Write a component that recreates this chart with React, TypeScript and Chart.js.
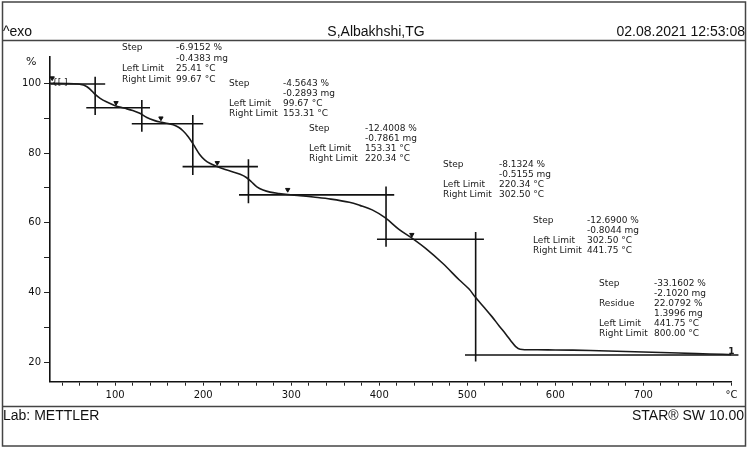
import React, { useEffect, useRef } from 'react';
import { Chart, registerables } from 'chart.js';

Chart.register(...registerables);

// ---- Data ----
const temperatures = [26, 45, 58, 64, 68, 72, 77, 83, 90, 100, 110, 120, 128, 136, 145, 151, 160, 166, 172, 177, 183, 189, 196, 202, 208, 215, 225, 234, 242, 249, 255, 261, 268, 276, 286, 296, 310, 325, 345, 366, 378, 392, 407, 422, 436, 453, 472, 491, 502, 509, 520, 528, 536, 544, 550, 555, 560, 580, 600, 640, 680, 720, 760, 790, 800];
const massPercent = [100.0, 99.95, 99.8, 99.5, 99.0, 98.2, 96.9, 95.7, 94.7, 93.6, 92.9, 92.2, 91.4, 90.2, 89.3, 88.9, 88.5, 88.1, 87.4, 86.4, 84.7, 82.4, 79.6, 78.0, 77.0, 76.2, 75.3, 74.6, 73.9, 73.0, 71.7, 70.3, 69.4, 68.8, 68.4, 68.1, 67.8, 67.4, 66.8, 65.9, 65.0, 63.7, 61.4, 58.2, 55.8, 52.6, 48.4, 43.6, 41.0, 38.7, 35.5, 33.1, 30.5, 28.0, 26.0, 24.5, 23.75, 23.6, 23.55, 23.4, 23.1, 22.8, 22.5, 22.3, 22.2];

// step evaluation construction lines: [x1, y1, x2, y2]
const stepLines = [
  [26.4, 99.8, 88.7, 99.8],
  [77.3, 101.9, 77.3, 90.9],
  [67.2, 93.0, 139.6, 93.0],
  [130.3, 95.2, 130.3, 86.1],
  [118.9, 88.4, 200, 88.4],
  [188.2, 90.9, 188.2, 73.7],
  [176.6, 76.1, 262.2, 76.1],
  [251.4, 78.2, 251.4, 65.6],
  [240.7, 68.0, 417, 68.0],
  [407.7, 70.4, 407.7, 53.1],
  [397.4, 55.3, 518.9, 55.3],
  [509.5, 57.4, 509.5, 20.2],
  [497.4, 22.1, 808, 22.1],
];

const markerTemps = [28.5, 101, 152, 216, 296, 437];
const markerValues = [101.5, 94.4, 90.0, 77.2, 69.5, 56.6];

const xTickValues = [40, 60, 80, 100, 120, 140, 160, 180, 200, 220, 240, 260, 280, 300, 320, 340, 360, 380, 400, 420, 440, 460, 480, 500, 520, 540, 560, 580, 600, 620, 640, 660, 680, 700, 720, 740, 760, 780, 800];
const xTickLabels: Record<number, string> = { 100: '100', 200: '200', 300: '300', 400: '400', 500: '500', 600: '600', 700: '700', 800: '°C' };
const yTickValues = [20, 30, 40, 50, 60, 70, 80, 90, 100];
const yTickLabels: Record<number, string> = { 20: '20', 40: '40', 60: '60', 80: '80', 100: '100' };

const header = { left: '^exo', center: 'S,Albakhshi,TG', right: '02.08.2021 12:53:08' };
const footer = { left: 'Lab: METTLER', right: 'STAR® SW 10.00' };

// annotation blocks: label column, value column
const annotationBlocks = [
  { labels: ['Step', '', 'Left Limit', 'Right Limit'], values: ['-6.9152 %', '-0.4383 mg', '25.41 °C', '99.67 °C'] },
  { labels: ['Step', '', 'Left Limit', 'Right Limit'], values: ['-4.5643 %', '-0.2893 mg', '99.67 °C', '153.31 °C'] },
  { labels: ['Step', '', 'Left Limit', 'Right Limit'], values: ['-12.4008 %', '-0.7861 mg', '153.31 °C', '220.34 °C'] },
  { labels: ['Step', '', 'Left Limit', 'Right Limit'], values: ['-8.1324 %', '-0.5155 mg', '220.34 °C', '302.50 °C'] },
  { labels: ['Step', '', 'Left Limit', 'Right Limit'], values: ['-12.6900 %', '-0.8044 mg', '302.50 °C', '441.75 °C'] },
  { labels: ['Step', '', 'Residue', '', 'Left Limit', 'Right Limit'], values: ['-33.1602 %', '-2.1020 mg', '22.0792 %', '1.3996 mg', '441.75 °C', '800.00 °C'] },
];
// layout anchors for the blocks: [labelX, valueX, firstLineY, lineGap]
const annotationAnchors = [
  [122, 176, 48, 10.5],
  [229, 283, 84, 10],
  [309, 365, 128.5, 10],
  [443, 499, 165, 10],
  [533, 587, 221, 10],
  [599, 654, 284, 9.9],
];

const FONT = '"DejaVu Sans", Verdana, sans-serif';
const HFONT = '"Liberation Sans", Arial, sans-serif';

const decorPlugin = {
  id: 'decor',
  afterDraw(chart: any) {
    const ctx = chart.ctx as CanvasRenderingContext2D;
    ctx.save();
    // frames
    ctx.strokeStyle = '#444';
    ctx.lineWidth = 1.5;
    ctx.strokeRect(2.5, 2, 743, 444);
    ctx.beginPath();
    ctx.moveTo(2.5, 40.5);
    ctx.lineTo(745.5, 40.5);
    ctx.moveTo(2.5, 406.5);
    ctx.lineTo(745.5, 406.5);
    ctx.stroke();

    // header / footer
    ctx.fillStyle = '#111';
    ctx.font = `14px ${HFONT}`;
    ctx.textBaseline = 'middle';
    ctx.textAlign = 'left';
    ctx.fillText(header.left, 3, 32);
    ctx.textAlign = 'center';
    ctx.fillText(header.center, 376, 32);
    ctx.textAlign = 'right';
    ctx.fillText(header.right, 745, 32);
    ctx.textAlign = 'left';
    ctx.fillText(footer.left, 3, 416);
    ctx.textAlign = 'right';
    ctx.fillText(footer.right, 744, 416);

    // axis unit
    ctx.textAlign = 'left';
    ctx.font = `11px ${FONT}`;
    ctx.fillText('%', 26, 62);

    // small bracket symbol at start
    ctx.font = `9px ${FONT}`;
    ctx.fillText('{[ ]', 52, 83);

    // annotation texts
    ctx.font = `9px ${FONT}`;
    ctx.fillStyle = '#1a1a1a';
    annotationBlocks.forEach((b, i) => {
      const [lx, vx, y0, gap] = annotationAnchors[i];
      b.labels.forEach((t, j) => {
        if (t) ctx.fillText(t, lx, y0 + j * gap);
      });
      b.values.forEach((t, j) => {
        ctx.fillText(t, vx, y0 + j * gap);
      });
    });

    // curve number at end
    const xs = chart.scales.x;
    const ys = chart.scales.y;
    ctx.font = `bold 9px ${FONT}`;
    ctx.textAlign = 'center';
    ctx.fillText('1', xs.getPixelForValue(800), ys.getPixelForValue(23.0));
    ctx.restore();
  },
};

export default function App() {
  const ref = useRef<HTMLCanvasElement>(null);
  useEffect(() => {
    document.body.style.margin = '0';
    const canvas = ref.current!;
    const curve = temperatures.map((t, i) => ({ x: t, y: massPercent[i] }));
    const lineSets = stepLines.map((s) => ({
      data: [{ x: s[0], y: s[1] }, { x: s[2], y: s[3] }],
      borderColor: '#111',
      borderWidth: 1.6,
      pointRadius: 0,
      showLine: true,
      clip: false as any,
      tension: 0,
    }));
    const chart = new Chart(canvas, {
      type: 'scatter',
      data: {
        datasets: [
          {
            data: curve,
            borderColor: '#1a1a1a',
            borderWidth: 1.6,
            pointRadius: 0,
            showLine: true,
            tension: 0.35,
          } as any,
          ...lineSets,
          {
            data: markerTemps.map((t, i) => ({ x: t, y: markerValues[i] })),
            pointStyle: 'triangle',
            rotation: 180,
            radius: 2.5,
            backgroundColor: '#111',
            borderColor: '#111',
            showLine: false,
            clip: false as any,
          } as any,
        ],
      },
      options: {
        responsive: false,
        animation: false,
        events: [],
        layout: { padding: { left: 0, right: 17.6, top: 56.7, bottom: 37.3 } },
        plugins: { legend: { display: false }, tooltip: { enabled: false } },
        scales: {
          x: {
            type: 'linear',
            min: 26,
            max: 800,
            afterBuildTicks: (s: any) => {
              s.ticks = xTickValues.map((v) => ({ value: v }));
            },
            afterFit: (s: any) => {
              s.height = 30;
            },
            ticks: {
              autoSkip: false,
              maxRotation: 0,
              padding: 4,
              color: '#111',
              font: { family: FONT, size: 10 },
              callback: (v: any) => xTickLabels[v] ?? '',
            },
            grid: { display: true, drawOnChartArea: false, drawTicks: true, tickLength: 4, color: '#222', lineWidth: 1 },
            border: { display: true, color: '#111', width: 1.6 },
          },
          y: {
            type: 'linear',
            min: 14.44,
            max: 107.63,
            afterBuildTicks: (s: any) => {
              s.ticks = yTickValues.map((v) => ({ value: v }));
            },
            afterFit: (s: any) => {
              s.width = 50;
            },
            ticks: {
              autoSkip: false,
              padding: 3,
              color: '#111',
              font: { family: FONT, size: 10 },
              callback: (v: any) => yTickLabels[v] ?? '',
            },
            grid: { display: true, drawOnChartArea: false, drawTicks: true, tickLength: 6, color: '#222', lineWidth: 1 },
            border: { display: true, color: '#111', width: 1.6 },
          },
        },
      },
      plugins: [decorPlugin],
    });
    return () => chart.destroy();
  }, []);
  return <canvas ref={ref} width={749} height={449} style={{ display: 'block' }} />;
}
